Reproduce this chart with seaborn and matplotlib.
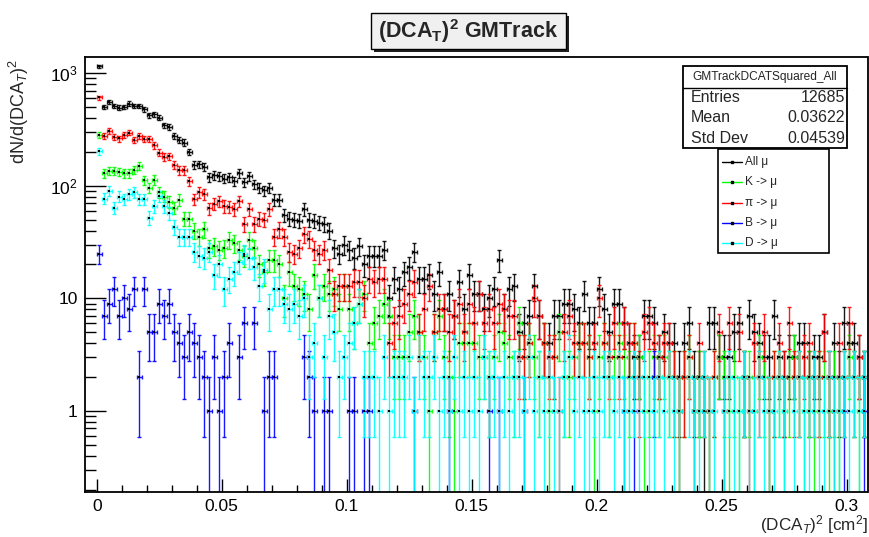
import numpy as np
import pandas as pd
import matplotlib
matplotlib.use("Agg")
import matplotlib.pyplot as plt
import seaborn as sns
from matplotlib import font_manager
from matplotlib.patches import Rectangle
from matplotlib.lines import Line2D
from matplotlib.ticker import MultipleLocator, LogLocator, FuncFormatter, NullFormatter

# histogram: 154 bins of 0.002 cm^2 starting at 0
bin_width = 0.002
n_bins = 154

all_mu = [1151, 501, 555, 509, 495, 501, 537, 512, 512, 478,
          423, 432, 401, 345, 333, 277, 254, 242, 200, 152,
          155, 147, 119, 124, 122, 116, 120, 110, 129, 107,
          122, 103, 96, 91, 96, 75, 75, 55, 51, 50,
          49, 62, 50, 49, 47, 46, 40, 28, 25, 30,
          27, 23, 29, 20, 24, 24, 24, 27, 10, 15,
          12, 17, 19, 26, 15, 15, 16, 11, 17, 8,
          11, 7, 14, 8, 16, 11, 11, 8, 10, 12,
          22, 8, 12, 13, 5, 6, 7, 13, 7, 4,
          4, 7, 7, 9, 9, 8, 6, 11, 6, 6,
          12, 8, 5, 9, 9, 6, 4, 3, 3, 7,
          7, 6, 3, 5, 4, 4, 2, 4, 6, 2,
          2, 1, 6, 6, 3, 3, 3, 5, 6, 2,
          7, 5, 4, 3, 3, 7, 3, 2, 3, 3,
          4, 4, 2, 3, 3, 5, 2, 4, 2, 6,
          4, 4, 3, 2]

k_mu = [281, 129, 135, 135, 133, 129, 129, 138, 150, 112,
        96, 113, 88, 80, 72, 64, 75, 51, 51, 40,
        35, 41, 28, 29, 27, 28, 33, 31, 27, 24,
        33, 28, 20, 17, 22, 22, 20, 10, 17, 13,
        12, 11, 8, 16, 10, 13, 11, 12, 8, 13,
        8, 6, 9, 11, 4, 6, 7, 9, 7, 3,
        3, 3, 5, 7, 5, 3, 1, 5, 7, 3,
        2, 1, 4, 4, 4, 4, 3, 3, 2, 3,
        5, 4, 3, 2, 6, 3, 4, 3, 2, 4,
        1, 3, 5, 2, 2, 3, 4, 4, 3, 1,
        3, 4, 2, 3, 4, 3, 2, 4, 3, 1,
        2, 3, 2, 3, 2, 2, 1, 2, 3, 1,
        2, 2, 1, 2, 3, 2, 1, 2, 1, 2,
        2, 1, 3, 2, 1, 2, 2, 1, 2, 3,
        2, 1, 2, 1, 2, 2, 1, 2, 1, 2,
        3, 2, 1, 2]

pi_mu = [608, 277, 307, 272, 263, 285, 297, 254, 277, 259,
         259, 229, 197, 181, 183, 152, 137, 137, 110, 76,
         88, 84, 63, 69, 73, 66, 65, 62, 73, 46,
         62, 46, 51, 50, 62, 35, 41, 35, 26, 25,
         28, 37, 34, 27, 25, 27, 18, 11, 13, 13,
         13, 14, 14, 10, 15, 14, 15, 15, 4, 6,
         7, 9, 11, 14, 5, 8, 13, 5, 8, 8,
         5, 7, 9, 5, 9, 6, 11, 6, 8, 6,
         9, 8, 7, 7, 3, 3, 4, 10, 7, 4,
         3, 3, 1, 5, 7, 4, 4, 4, 3, 4,
         10, 4, 3, 6, 3, 6, 4, 4, 2, 5,
         6, 4, 3, 4, 4, 2, 1, 2, 3, 1,
         4, 2, 1, 2, 5, 1, 6, 0, 5, 2,
         1, 4, 2, 5, 1, 2, 4, 2, 6, 2,
         2, 3, 4, 2, 2, 5, 2, 1, 4, 2,
         6, 2, 3, 2]

b_mu = [25, 7, 9, 12, 7, 10, 8, 12, 2, 12,
        5, 5, 9, 7, 9, 5, 4, 3, 5, 4,
        3, 2, 1, 3, 1, 2, 4, 0, 3, 6,
        0, 6, 0, 1, 2, 2, 0, 0, 0, 0,
        0, 3, 2, 1, 0, 1, 1, 0, 0, 0,
        1, 1, 0, 1, 1, 0, 0, 0, 0, 0,
        0, 0, 0, 1, 0, 0, 0, 0, 0, 0,
        1, 0, 0, 0, 0, 0, 0, 0, 1, 0,
        1, 0, 0, 0, 0, 1, 0, 0, 0, 0,
        0, 0, 0, 0, 0, 0, 0, 0, 0, 0,
        0, 0, 0, 0, 0, 1, 0, 1, 0, 0,
        0, 2, 0, 0, 0, 0, 0, 0, 0, 0,
        0, 0, 0, 0, 0, 0, 0, 0, 0, 0,
        0, 0, 0, 0, 0, 0, 0, 0, 0, 0,
        0, 0, 0, 0, 0, 0, 0, 0, 0, 1,
        0, 0, 0, 1]

d_mu = [203, 77, 90, 64, 80, 76, 84, 88, 76, 76,
        52, 66, 81, 66, 57, 43, 35, 35, 35, 26,
        24, 23, 26, 16, 20, 12, 15, 17, 21, 25,
        23, 19, 13, 18, 8, 12, 12, 9, 8, 9,
        7, 10, 3, 4, 10, 3, 7, 5, 2, 3,
        4, 6, 9, 2, 2, 2, 1, 3, 1, 2,
        2, 2, 3, 1, 3, 2, 2, 3, 1, 2,
        1, 3, 1, 2, 1, 2, 1, 3, 2, 2,
        1, 2, 1, 2, 2, 1, 3, 1, 2, 1,
        2, 1, 1, 2, 3, 1, 2, 1, 1, 2,
        1, 2, 2, 1, 2, 1, 1, 2, 1, 2,
        1, 1, 2, 1, 2, 1, 1, 0, 2, 1,
        1, 2, 1, 1, 0, 1, 2, 1, 1, 2,
        1, 1, 2, 1, 1, 1, 2, 1, 0, 1,
        2, 1, 1, 2, 1, 1, 2, 1, 1, 2,
        1, 2, 1, 2]

labels = ["All \u03bc", "K -> \u03bc", "\u03c0 -> \u03bc", "B -> \u03bc", "D -> \u03bc"]
colors = ["black", "#00ff00", "#ff0000", "#0000ff", "#00ffff"]
counts = [all_mu, k_mu, pi_mu, b_mu, d_mu]

stats_name = "GMTrackDCATSquared_All"
stats_rows = [("Entries", "12685"), ("Mean", "0.03622"), ("Std Dev", "0.04539")]

# long table, empty bins are not drawn
centers = np.arange(n_bins) * bin_width + bin_width / 2
df = pd.concat([pd.DataFrame({"x": centers, "n": np.array(c, dtype=float), "source": lab})
                for lab, c in zip(labels, counts)], ignore_index=True)
df = df[df["n"] > 0]

sns.set_style("ticks")
font_names = {f.name for f in font_manager.fontManager.ttflist}
title_font = "Liberation Sans Narrow" if "Liberation Sans Narrow" in font_names else "Liberation Sans"
plt.rcParams["font.family"] = ["Liberation Sans", "DejaVu Sans"]
plt.rcParams["mathtext.fontset"] = "custom"
plt.rcParams["mathtext.rm"] = "Liberation Sans"
plt.rcParams["mathtext.it"] = "Liberation Sans:italic"
plt.rcParams["mathtext.bf"] = title_font + ":bold"

W, H = 869, 537
def fx(px):
    return px / W
def fy(py):
    return 1 - py / H

fig = plt.figure(figsize=(W / 100, H / 100), dpi=100)
ax = fig.add_axes([fx(84.5), fy(491.7), (867.5 - 84.5) / W, (491.7 - 56.7) / H])

for lab, col in zip(labels, colors):
    sub = df[df["source"] == lab]
    n = sub["n"].to_numpy()
    err = np.sqrt(n)
    lo = n - np.maximum(n - err, 0.05)
    ax.errorbar(sub["x"], n, yerr=[lo, err], xerr=bin_width / 2, fmt="none",
                ecolor=col, elinewidth=1.0, capsize=1.2, capthick=1.0, alpha=0.9)

sns.scatterplot(data=df, x="x", y="n", color="black", marker="s", s=2.5,
                linewidth=0, legend=False, ax=ax, zorder=5)

ax.set_yscale("log")
ax.set_xlim(-0.0049, 0.3083)
ax.set_ylim(0.192, 1400)
ax.set_xlabel("")
ax.set_ylabel("")

ax.xaxis.set_major_locator(MultipleLocator(0.05))
ax.xaxis.set_minor_locator(MultipleLocator(0.01))
ax.xaxis.set_major_formatter(FuncFormatter(lambda v, p: f"{v:g}"))
ax.yaxis.set_major_locator(LogLocator(base=10))
ax.yaxis.set_minor_locator(LogLocator(base=10, subs=np.arange(2, 10)))
ylab = {1: "1", 10: "10", 100: r"$10^{2}$", 1000: r"$10^{3}$"}
ax.yaxis.set_major_formatter(FuncFormatter(lambda v, p: ylab.get(int(round(v)), "")))
ax.yaxis.set_minor_formatter(NullFormatter())

ax.tick_params(axis="both", which="both", direction="in", top=False, right=False,
               colors="black", width=1.0, labelsize=12.5)
ax.tick_params(axis="x", which="major", length=9.5, pad=5)
ax.tick_params(axis="x", which="minor", length=5)
ax.tick_params(axis="y", which="major", length=15, pad=5)
ax.tick_params(axis="y", which="minor", length=8)
for s in ax.spines.values():
    s.set_linewidth(1.3)
    s.set_color("black")

# axis titles in ROOT placement
fig.text(fx(19), fy(59), r"dN/d(DCA$_{T}$)$^{2}$", rotation=90, ha="center", va="top", fontsize=13)
fig.text(fx(868), fy(525), r"(DCA$_{T}$)$^{2}$ [cm$^{2}$]", ha="right", va="center", fontsize=12.3)

# title box with shadow
fig.add_artist(Rectangle((fx(374), fy(52)), 195 / W, 36 / H, transform=fig.transFigure,
                         facecolor="#222222", edgecolor="none"))
fig.add_artist(Rectangle((fx(371), fy(49)), 195 / W, 36 / H, transform=fig.transFigure,
                         facecolor="#f0f0f0", edgecolor="black", linewidth=1.0))
fig.text(fx(468.5), fy(31), r"$\mathbf{(DCA_{T})^{2}}$ GMTrack", ha="center", va="center",
         fontsize=15.5, fontweight="bold", family=title_font)

# stats box
fig.add_artist(Rectangle((fx(683), fy(148)), 164 / W, 82 / H, transform=fig.transFigure,
                         facecolor="white", edgecolor="black", linewidth=1.3))
fig.add_artist(Line2D([fx(683), fx(847)], [fy(88), fy(88)], transform=fig.transFigure,
                      color="black", linewidth=1.0))
fig.text(fx(765), fy(77), stats_name, ha="center", va="center", fontsize=8.6)
for i, (k, v) in enumerate(stats_rows):
    yy = fy(98 + 20 * i)
    fig.text(fx(691), yy, k, ha="left", va="center", fontsize=11.5)
    fig.text(fx(845), yy, v, ha="right", va="center", fontsize=11.5)

# legend box
fig.add_artist(Rectangle((fx(718), fy(253)), 111 / W, 104 / H, transform=fig.transFigure,
                         facecolor="white", edgecolor="black", linewidth=1.2))
for i, (lab, col) in enumerate(zip(labels, colors)):
    yy = fy(162 + 20.3 * i)
    fig.add_artist(Line2D([fx(722), fx(742)], [yy, yy], transform=fig.transFigure,
                          color=col, linewidth=1.0))
    fig.add_artist(Line2D([fx(732)], [yy], transform=fig.transFigure, marker="s",
                          markersize=1.5, color="black", linestyle="none"))
    fig.text(fx(745), yy, lab, ha="left", va="center", fontsize=8.6)

fig.savefig("out.png", dpi=100)
